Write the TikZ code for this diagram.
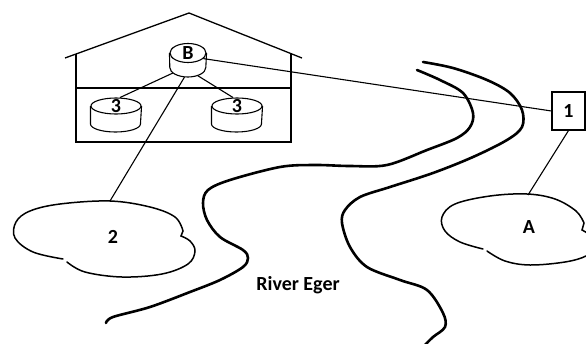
\documentclass[tikz,border=0pt]{standalone}
\usepackage{fontspec}
\setmainfont{Carlito}
\usepackage{tikz}
\usetikzlibrary{shapes.geometric}

\begin{document}
\begin{tikzpicture}[x=1pt, y=-1pt,
	disk/.style={ellipse, draw, line width=1.1pt, inner sep=0pt},
	lbl/.style={font=\fontsize{20}{21}\selectfont\bfseries},
	link/.style={line width=1.1pt},
	bank/.style={line width=2.6pt, line cap=round},
	field/.style={line width=1.5pt, line cap=round}]
	\useasboundingbox (0,0) rectangle (586,343);
	\clip (0,0) rectangle (586,343);
	%%%house
	\draw[line width=1.3pt] (65,58) -- (189,13) -- (302,58);
	\draw[line width=1.1pt] (76,54) -- (76,142) -- (291,142) -- (291,54);
	\draw[line width=1.8pt] (76,88) -- (291,88);
	%%%nodes
	%upper floor
	\node[disk, minimum width=36, minimum height=19, label={[lbl]center:B}] at (188,53) (B){};
	\node[minimum width=36, minimum height=19, ellipse, inner sep=0pt] at (188,67.5) (Bb){};
	\draw[line width=1.1pt] (B.west) -- (Bb.west) arc[start angle=180, end angle=0, x radius=18, y radius=9.5] -- (B.east);
	%lower floor
	\node[disk, minimum width=50, minimum height=16, label={[lbl]center:3}] at (116,106) (L3){};
	\draw[line width=1.1pt] (L3.west) -- ++(0,18) arc[start angle=180, end angle=0, x radius=25, y radius=8] -- (L3.east);
	\node[disk, minimum width=50, minimum height=16, label={[lbl]center:3}] at (237,106) (R3){};
	\draw[line width=1.1pt] (R3.west) -- ++(0,18) arc[start angle=180, end angle=0, x radius=25, y radius=8] -- (R3.east);
	%across the river
	\node[draw, line width=1.1pt, minimum width=33, minimum height=38, lbl] at (568.5,111) (one){1};
	%fields
	\node[lbl] at (113,237) (f2){2};
	\coordinate (top2) at (110,201);
	\node[lbl] at (529,227) (fA){A};
	\coordinate (topA) at (528,195);
	\node[lbl] at (298,285) (river){River Eger};
	%%%outlines
	%field 2
	\draw[field] plot[smooth, tension=0.6] coordinates {(63,259) (33,252) (15,238) (16,222) (30,211) (60,204) (110,201) (150,207) (175,217) (183,231)}
		-- plot[smooth, tension=0.6] coordinates {(181,236) (190,241) (195,251) (188,264) (162,274) (122,277) (85,272) (67,262)};
	%field A
	\draw[field] plot[smooth, tension=0.6] coordinates {(483,249) (460,242) (445,231) (442,217) (455,204) (490,196) (527,194) (555,199) (576,211) (584,223)}
		-- plot[smooth, tension=0.6] coordinates {(582,230) (590,236) (592,248) (586,256) (565,262) (530,265) (505,261) (487,251)};
	%river banks
	\draw[bank] plot[smooth, tension=0.55] coordinates {(417,70) (440,80) (463,93) (473,113) (470,127) (457,138) (427,150) (387,165) (350,166) (315,165) (280,167) (230,180) (208,190) (203,203) (207,220) (220,237) (243,250) (248,258) (243,267) (220,280) (190,292) (150,307) (113,317) (106,323)};
	\draw[bank] plot[smooth, tension=0.55] coordinates {(423,62) (453,68) (487,80) (510,93) (522,110) (522,127) (507,140) (473,157) (433,173) (390,187) (360,197) (345,210) (342,223) (350,247) (367,267) (400,280) (427,290) (443,313) (445,327) (433,337) (425,345)};
	%%%links
	\draw[link] (Bb.200) -- (L3.65);
	\draw[link] (Bb.-40) -- (R3.115);
	\draw[link] (Bb.250) -- (top2);
	\draw[link] (B.-20) -- (one.west);
	\draw[link] (one.south) -- (topA);
\end{tikzpicture}
\end{document}
